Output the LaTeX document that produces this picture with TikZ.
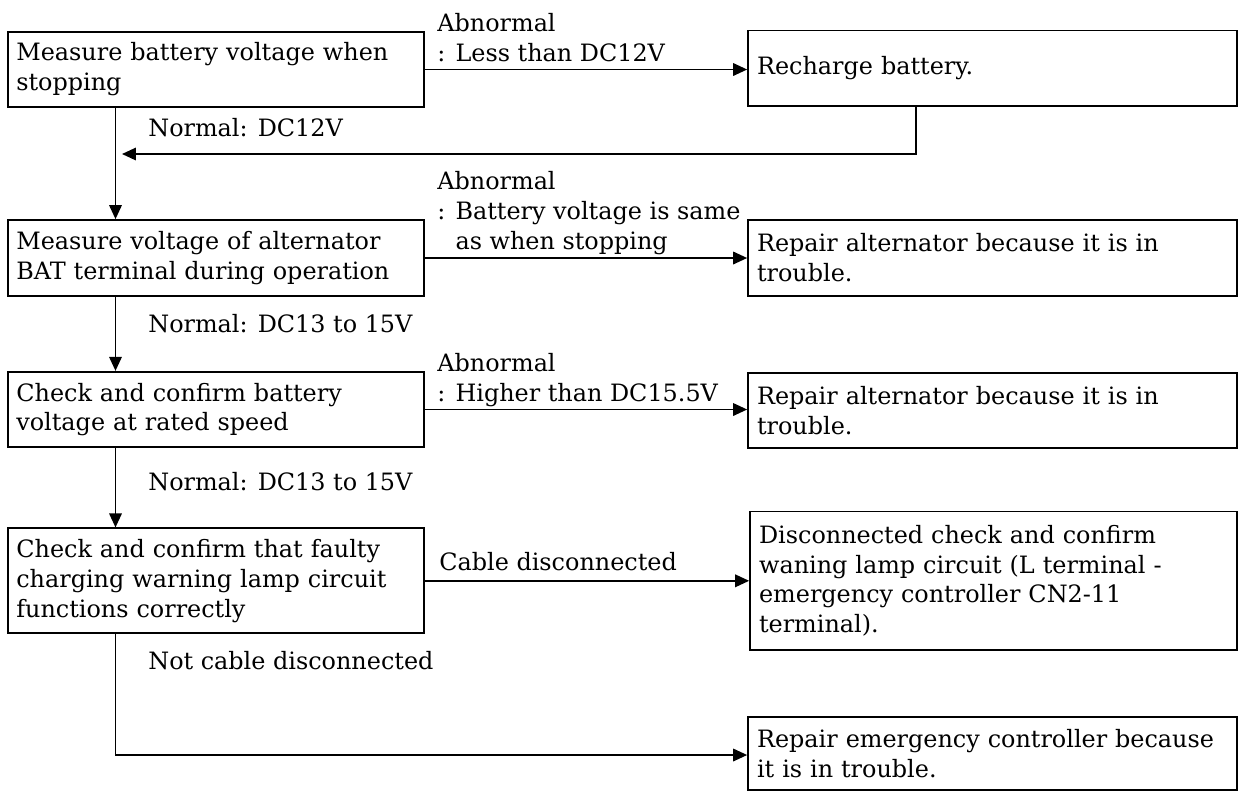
\documentclass[tikz,border=0pt]{standalone}
\usepackage{fontspec}
\setmainfont{DejaVu Serif}
\usetikzlibrary{arrows.meta,positioning}
\begin{document}
\begin{tikzpicture}[x=0.02cm,y=-0.02cm,font=\fontsize{13.6}{17}\selectfont,
  lbox/.style={draw,line width=1pt,align=left,text width=8.0cm,inner xsep=0.16cm,inner ysep=0pt},
  rbox/.style={draw,line width=1pt,align=left,text width=9.42cm,inner xsep=0.18cm,inner ysep=0pt},
  lbl/.style={anchor=west,align=left,inner sep=0pt},
  arr/.style={line width=1pt,-{Triangle[length=0.28cm,width=0.25cm]}}]
  \useasboundingbox (0,0) rectangle (1239,792);
  % left column
  \node[lbox,minimum height=1.51cm] (stop) at (216.3,69.5) {Measure battery voltage when\\stopping};
  \node[lbox,minimum height=1.52cm] (alt) at (216.3,258) {Measure voltage of alternator\\BAT terminal during operation};
  \node[lbox,minimum height=1.51cm] (rated) at (216.3,409.5) {Check and confirm battery\\voltage at rated speed};
  \node[lbox,minimum height=2.1cm] (lamp) at (216.3,580.8) {Check and confirm that faulty\\charging warning lamp circuit\\functions correctly};
  % right column
  \node[rbox,minimum height=1.51cm] (rch) at (992.5,68.3) {Recharge battery.};
  \node[rbox,minimum height=1.52cm] (rep1) at (992.5,258) {Repair alternator because it is in\\trouble.};
  \node[rbox,minimum height=1.5cm] (rep2) at (992.5,410.8) {Repair alternator because it is in\\trouble.};
  \node[rbox,text width=9.38cm,minimum height=2.77cm] (wire) at (993.5,580.8) {Disconnected check and confirm\\waning lamp circuit (L terminal -\\emergency controller CN2-11\\terminal).};
  \node[rbox,minimum height=1.47cm] (emg) at (992.5,753.4) {Repair emergency controller because\\it is in trouble.};
  % labels
  \node[lbl] (ab1) at (437,37.5) {Abnormal\\: Less than DC12V};
  \node[lbl] (ab2) at (437,213) {Abnormal\\: Battery voltage is same\\\phantom{: }as when stopping};
  \node[lbl] (ab3) at (437,379.8) {Abnormal\\: Higher than DC15.5V};
  \node[lbl] (cab) at (439,561.7) {Cable disconnected};
  \node[lbl] (ok1) at (148,128) {Normal: DC12V};
  \node[lbl] (ok2) at (148,323.3) {Normal: DC13 to 15V};
  \node[lbl] (ok3) at (148,481.7) {Normal: DC13 to 15V};
  \node[lbl] (nocab) at (148,661) {Not cable disconnected};
  % connectors
  \coordinate (spine) at (115.5,0);
  \coordinate (ret) at (916,154);
  \coordinate (join) at (122,154);
  \coordinate (low) at (115.5,755);
  \draw[arr] (stop.east) -- (stop.east -| rch.west);
  \draw[arr] (alt.east) -- (alt.east -| rep1.west);
  \draw[arr] (rated.east) -- (rated.east -| rep2.west);
  \draw[arr] (lamp.east) -- (lamp.east -| wire.west);
  \draw[arr] (ret |- rch.south) -- (ret) -- (join);
  \draw[arr] (spine |- stop.south) -- (spine |- alt.north);
  \draw[arr] (spine |- alt.south) -- (spine |- rated.north);
  \draw[arr] (spine |- rated.south) -- (spine |- lamp.north);
  \draw[arr] (spine |- lamp.south) -- (low) -- (low -| emg.west);
\end{tikzpicture}
\end{document}
